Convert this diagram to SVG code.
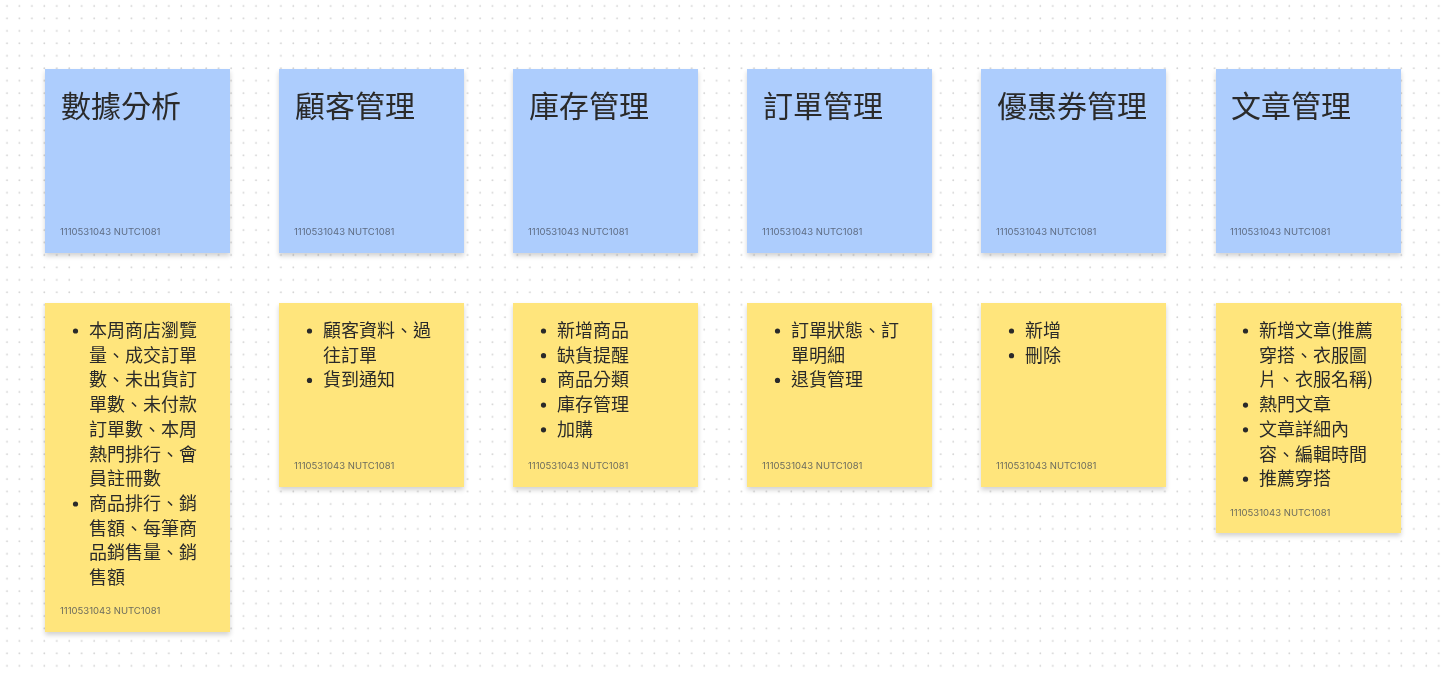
<svg xmlns="http://www.w3.org/2000/svg" width="1445" height="674" viewBox="0 0 1445 674">
<defs>
<pattern id="dots" x="1" y="0" width="12.45" height="12.45" patternUnits="userSpaceOnUse">
<circle cx="6" cy="6" r="0.9" fill="#d2d2d2"/>
</pattern>
<filter id="sh" x="-10%" y="-10%" width="120%" height="125%">
<feGaussianBlur in="SourceAlpha" stdDeviation="2.5"/>
<feOffset dy="3" result="b"/>
<feComponentTransfer><feFuncA type="linear" slope="0.18"/></feComponentTransfer>
<feMerge><feMergeNode/><feMergeNode in="SourceGraphic"/></feMerge>
</filter>
<style>
.blue{fill:#adcdfd;}
.yel{fill:#ffe57b;}
.title{font-family:"Noto Sans CJK TC","Noto Sans",sans-serif;font-size:30px;fill:#2b2b2b;}
.body{font-family:"Noto Sans CJK TC","Noto Sans",sans-serif;font-size:18px;fill:#2b2b2b;}
.foot{font-family:Inter,"Liberation Sans",sans-serif;font-size:9.5px;fill:#6b6b5e;}
.footb{font-family:Inter,"Liberation Sans",sans-serif;font-size:9.5px;fill:#5d6b82;}
.dot{fill:#2b2b2b;}
</style>
</defs>
<rect width="1445" height="674" fill="#ffffff"/>
<rect width="1445" height="674" fill="url(#dots)"/>

<g id="n-analytics" filter="url(#sh)">
<rect class="blue" x="45" y="69" width="185" height="184"/>
<text class="title" x="61" y="117">數據分析</text>
<text class="footb" x="60" y="235">1110531043 NUTC1081</text>
</g>
<g id="n-customer" filter="url(#sh)">
<rect class="blue" x="279" y="69" width="185" height="184"/>
<text class="title" x="295" y="117">顧客管理</text>
<text class="footb" x="294" y="235">1110531043 NUTC1081</text>
</g>
<g id="n-inventory" filter="url(#sh)">
<rect class="blue" x="513" y="69" width="185" height="184"/>
<text class="title" x="529" y="117">庫存管理</text>
<text class="footb" x="528" y="235">1110531043 NUTC1081</text>
</g>
<g id="n-order" filter="url(#sh)">
<rect class="blue" x="747" y="69" width="185" height="184"/>
<text class="title" x="763" y="117">訂單管理</text>
<text class="footb" x="762" y="235">1110531043 NUTC1081</text>
</g>
<g id="n-coupon" filter="url(#sh)">
<rect class="blue" x="981" y="69" width="185" height="184"/>
<text class="title" x="997" y="117">優惠券管理</text>
<text class="footb" x="996" y="235">1110531043 NUTC1081</text>
</g>
<g id="n-article" filter="url(#sh)">
<rect class="blue" x="1216" y="69" width="185" height="184"/>
<text class="title" x="1231" y="117">文章管理</text>
<text class="footb" x="1230" y="235">1110531043 NUTC1081</text>
</g>

<g id="d-analytics" filter="url(#sh)">
<rect class="yel" x="45" y="303" width="185" height="329"/>
<circle class="dot" cx="75.5" cy="331" r="2.6"/>
<circle class="dot" cx="75.5" cy="504" r="2.6"/>
<text class="body" x="89">
<tspan x="89" y="337">本周商店瀏覽</tspan>
<tspan x="89" y="361.7">量、成交訂單</tspan>
<tspan x="89" y="386.4">數、未出貨訂</tspan>
<tspan x="89" y="411.1">單數、未付款</tspan>
<tspan x="89" y="435.8">訂單數、本周</tspan>
<tspan x="89" y="460.5">熱門排行、會</tspan>
<tspan x="89" y="485.2">員註冊數</tspan>
<tspan x="89" y="509.9">商品排行、銷</tspan>
<tspan x="89" y="534.6">售額、每筆商</tspan>
<tspan x="89" y="559.3">品銷售量、銷</tspan>
<tspan x="89" y="584">售額</tspan>
</text>
<text class="foot" x="60" y="614">1110531043 NUTC1081</text>
</g>
<g id="d-customer" filter="url(#sh)">
<rect class="yel" x="279" y="303" width="185" height="184"/>
<circle class="dot" cx="309.5" cy="331" r="2.6"/>
<circle class="dot" cx="309.5" cy="380.4" r="2.6"/>
<text class="body">
<tspan x="323" y="337">顧客資料、過</tspan>
<tspan x="323" y="361.7">往訂單</tspan>
<tspan x="323" y="386.4">貨到通知</tspan>
</text>
<text class="foot" x="294" y="469">1110531043 NUTC1081</text>
</g>
<g id="d-inventory" filter="url(#sh)">
<rect class="yel" x="513" y="303" width="185" height="184"/>
<circle class="dot" cx="543.5" cy="331" r="2.6"/>
<circle class="dot" cx="543.5" cy="355.7" r="2.6"/>
<circle class="dot" cx="543.5" cy="380.4" r="2.6"/>
<circle class="dot" cx="543.5" cy="405.1" r="2.6"/>
<circle class="dot" cx="543.5" cy="429.8" r="2.6"/>
<text class="body">
<tspan x="557" y="337">新增商品</tspan>
<tspan x="557" y="361.7">缺貨提醒</tspan>
<tspan x="557" y="386.4">商品分類</tspan>
<tspan x="557" y="411.1">庫存管理</tspan>
<tspan x="557" y="435.8">加購</tspan>
</text>
<text class="foot" x="528" y="469">1110531043 NUTC1081</text>
</g>
<g id="d-order" filter="url(#sh)">
<rect class="yel" x="747" y="303" width="185" height="184"/>
<circle class="dot" cx="777.5" cy="331" r="2.6"/>
<circle class="dot" cx="777.5" cy="380.4" r="2.6"/>
<text class="body">
<tspan x="791" y="337">訂單狀態、訂</tspan>
<tspan x="791" y="361.7">單明細</tspan>
<tspan x="791" y="386.4">退貨管理</tspan>
</text>
<text class="foot" x="762" y="469">1110531043 NUTC1081</text>
</g>
<g id="d-coupon" filter="url(#sh)">
<rect class="yel" x="981" y="303" width="185" height="184"/>
<circle class="dot" cx="1011.5" cy="331" r="2.6"/>
<circle class="dot" cx="1011.5" cy="355.7" r="2.6"/>
<text class="body">
<tspan x="1025" y="337">新增</tspan>
<tspan x="1025" y="361.7">刪除</tspan>
</text>
<text class="foot" x="996" y="469">1110531043 NUTC1081</text>
</g>
<g id="d-article" filter="url(#sh)">
<rect class="yel" x="1216" y="303" width="185" height="230"/>
<circle class="dot" cx="1245.5" cy="331" r="2.6"/>
<circle class="dot" cx="1245.5" cy="405.1" r="2.6"/>
<circle class="dot" cx="1245.5" cy="429.8" r="2.6"/>
<circle class="dot" cx="1245.5" cy="479.2" r="2.6"/>
<text class="body">
<tspan x="1259" y="337">新增文章(推薦</tspan>
<tspan x="1259" y="361.7">穿搭、衣服圖</tspan>
<tspan x="1259" y="386.4">片、衣服名稱)</tspan>
<tspan x="1259" y="411.1">熱門文章</tspan>
<tspan x="1259" y="435.8">文章詳細內</tspan>
<tspan x="1259" y="460.5">容、編輯時間</tspan>
<tspan x="1259" y="485.2">推薦穿搭</tspan>
</text>
<text class="foot" x="1230" y="516">1110531043 NUTC1081</text>
</g>

<g id="connectors"></g>
</svg>
